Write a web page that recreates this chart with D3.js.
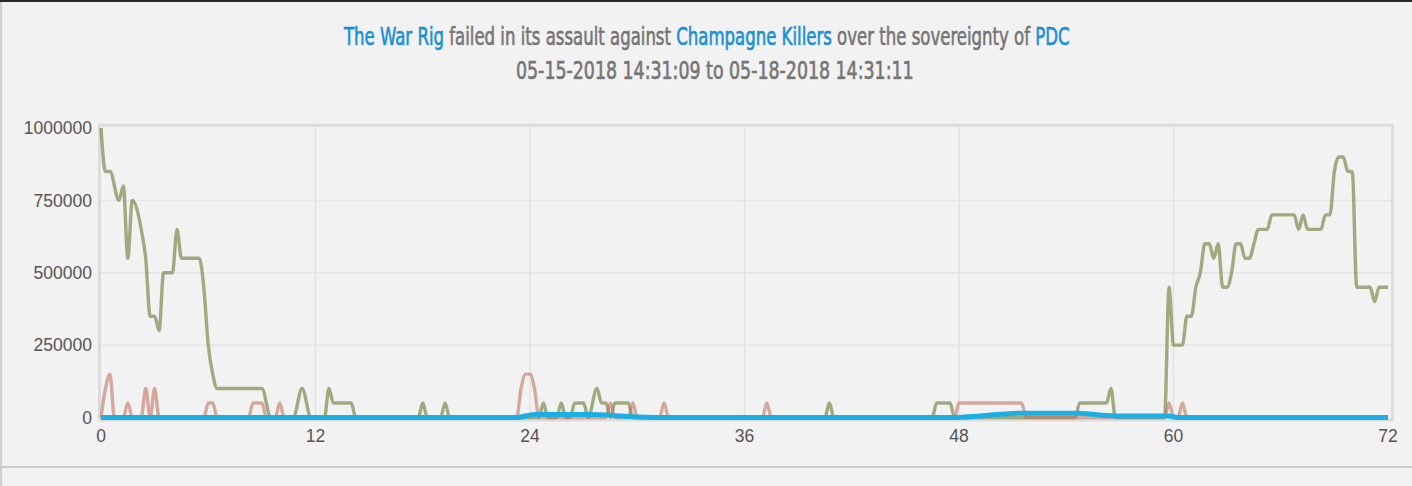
<!DOCTYPE html>
<html>
<head>
<meta charset="utf-8">
<script src="https://cdn.jsdelivr.net/npm/d3@7"></script>
<style>
  body { margin: 0; background: #f2f2f2; overflow: hidden; }
  svg { display: block; }
</style>
</head>
<body>
<script>
// [hours since start, value]
const greenSeries = [
  [0, 1000000], [0.25, 850000], [0.5, 850000], [1, 750000], [1.25, 800000], [1.5, 550000],
  [1.75, 750000], [2.25, 650000], [2.5, 550000], [2.75, 350000], [3, 350000], [3.25, 300000],
  [3.5, 500000], [4, 500000], [4.25, 650000], [4.5, 550000], [5.5, 550000], [5.75, 450000],
  [6, 250000], [6.25, 150000], [6.5, 100000], [9, 100000], [9.5, 0], [10.75, 0], [11.25, 100000],
  [11.75, 0], [12.5, 0], [12.75, 100000], [13, 50000], [14, 50000], [14.25, 0], [17.75, 0],
  [18, 50000], [18.25, 0], [19, 0], [19.25, 50000], [19.5, 0], [24.5, 0], [24.75, 50000],
  [25, 0], [25.5, 0], [25.75, 50000], [26, 0], [26.25, 0], [26.5, 50000], [27, 50000],
  [27.25, 0], [27.75, 100000], [28, 50000], [28.25, 50000], [28.5, 0], [28.75, 50000],
  [29.5, 50000], [29.75, 0], [40.5, 0], [40.75, 50000], [41, 0], [46.5, 0], [46.75, 50000],
  [47.5, 50000], [47.75, 0], [54.5, 0], [54.75, 50000], [56.25, 50000], [56.5, 100000],
  [56.75, 0], [59.5, 0], [59.75, 450000], [60, 250000], [60.5, 250000], [60.75, 350000],
  [61, 350000], [61.25, 450000], [61.5, 500000], [61.75, 600000], [62, 600000], [62.25, 550000],
  [62.5, 600000], [62.75, 450000], [63, 450000], [63.25, 500000], [63.5, 600000], [63.75, 600000],
  [64, 550000], [64.25, 550000], [64.5, 600000], [64.75, 650000], [65.25, 650000], [65.5, 700000],
  [66.75, 700000], [67, 650000], [67.25, 700000], [67.5, 650000], [68.25, 650000], [68.5, 700000],
  [68.75, 700000], [69, 850000], [69.25, 900000], [69.5, 900000], [69.75, 850000], [70, 850000],
  [70.25, 450000], [71, 450000], [71.25, 400000], [71.5, 450000], [72, 450000]
];
const pinkSeries = [
  [0, 0], [0.25, 100000], [0.5, 150000], [0.75, 0], [1.25, 0], [1.5, 50000], [1.75, 0],
  [2.25, 0], [2.5, 100000], [2.75, 0], [3, 100000], [3.25, 0], [5.75, 0], [6, 50000],
  [6.25, 50000], [6.5, 0], [8.25, 0], [8.5, 50000], [9, 50000], [9.25, 0], [9.75, 0],
  [10, 50000], [10.25, 0], [23.25, 0], [23.5, 100000], [23.75, 150000], [24, 150000],
  [24.25, 100000], [24.5, 0], [28.25, 0], [28.5, 50000], [28.75, 0], [29.5, 0], [29.75, 50000],
  [30, 0], [31.25, 0], [31.5, 50000], [31.75, 0], [37, 0], [37.25, 50000], [37.5, 0],
  [47.75, 0], [48, 50000], [51.5, 50000], [51.75, 0], [59.5, 0], [59.75, 50000], [60, 0],
  [60.25, 0], [60.5, 50000], [60.75, 0], [72, 0]
];
const blueSeries = [
  [0, 0], [23.25, 0], [24.25, 10000], [27.25, 10000], [29.75, 3000], [32, 0], [47.75, 0],
  [51.5, 15000], [54.5, 15000], [56.75, 5000], [59.75, 5000], [60.25, 0], [72, 0]
];
const xTicks = [0, 12, 24, 36, 48, 60, 72];
const yTicks = [0, 250000, 500000, 750000, 1000000];
const titleParts = [
  ["The War Rig", true], [" failed in its assault against ", false],
  ["Champagne Killers", true], [" over the sovereignty of ", false], ["PDC", true]
];
const subtitle = "05-15-2018 14:31:09 to 05-18-2018 14:31:11";

const width = 1412, height = 486;
const plot = {left: 101, right: 1388, top: 128, bottom: 417.5};

let svg = d3.select("body").append("svg")
  .attr("width", width)
  .attr("height", height);

// page chrome
svg.append("rect").attr("x", 0).attr("y", 0).attr("width", width).attr("height", 2).attr("fill", "#2b2b2b");
svg.append("rect").attr("x", 0).attr("y", 2).attr("width", 2).attr("height", height).attr("fill", "#cfcfcf");
svg.append("rect").attr("x", 0).attr("y", 466).attr("width", width).attr("height", 2).attr("fill", "#cacaca");

let x = d3.scaleLinear().domain([0, 72]).range([plot.left, plot.right]);
let y = d3.scaleLinear().domain([0, 1000000]).range([plot.bottom, plot.top]);

// grid
svg.append("g")
  .selectAll("line")
  .data(xTicks.slice(1, -1))
  .join("line")
  .attr("x1", d => x(d)).attr("x2", d => x(d))
  .attr("y1", 126).attr("y2", 420)
  .attr("stroke", "#e2e2e2").attr("stroke-width", 1.5);
svg.append("g")
  .selectAll("line")
  .data(yTicks.slice(1, -1))
  .join("line")
  .attr("x1", 100).attr("x2", 1392)
  .attr("y1", d => y(d)).attr("y2", d => y(d))
  .attr("stroke", "#e5e5e5").attr("stroke-width", 1.5);

// frame
svg.append("rect")
  .attr("x", 99.5).attr("y", 125.3)
  .attr("width", 1293).attr("height", 294.7)
  .attr("fill", "none")
  .attr("stroke", "#dcdcdc")
  .attr("stroke-width", 3);

// axes labels
svg.append("g")
  .selectAll("text")
  .data(yTicks)
  .join("text")
  .attr("x", 92)
  .attr("y", d => y(d))
  .attr("dy", "0.36em")
  .attr("text-anchor", "end")
  .style("font", "17.5px 'Liberation Sans', Arial, sans-serif")
  .attr("fill", "#555")
  .text(d3.format("d"));
svg.append("g")
  .selectAll("text")
  .data(xTicks)
  .join("text")
  .attr("x", d => x(d))
  .attr("y", 442)
  .attr("text-anchor", "middle")
  .style("font", "17.5px 'Liberation Sans', Arial, sans-serif")
  .attr("fill", "#555")
  .text(d => d);

// series
let line = d3.line()
  .x(d => x(d[0]))
  .y(d => y(d[1]))
  .curve(d3.curveMonotoneX);

svg.append("path").datum(greenSeries)
  .attr("d", line).attr("fill", "none")
  .attr("stroke", "rgba(112,124,58,0.62)").attr("stroke-width", 3.4)
  .attr("stroke-linejoin", "round");
svg.append("path").datum(pinkSeries)
  .attr("d", line).attr("fill", "none")
  .attr("stroke", "rgba(192,118,100,0.6)").attr("stroke-width", 3.4)
  .attr("stroke-linejoin", "round");
svg.append("path").datum(blueSeries)
  .attr("d", line).attr("fill", "none")
  .attr("stroke", "#1bb0e3").attr("stroke-width", 5)
  .attr("stroke-linejoin", "round");

// title, squeezed to the reference widths
const titleFont = "25px 'Liberation Sans Narrow', 'DejaVu Sans Condensed', sans-serif";
function titleLine(parts, left, right, baseline) {
  let g = svg.append("g");
  [["#ffffff", 1], [null, 0]].forEach(function (s) {
    let t = g.append("text")
      .attr("y", s[1])
      .style("font", titleFont)
      .style("white-space", "pre");
    parts.forEach(function (p) {
      let c = s[0] || (p[1] ? "#1a8fd6" : "#767676");
      t.append("tspan").attr("fill", c).attr("stroke", c).attr("stroke-width", 0.7).text(p[0]);
    });
  });
  let w = g.select("text").node().getComputedTextLength();
  g.attr("transform", "translate(" + left + "," + baseline + ") scale(" + ((right - left) / w) + ",1)");
}
titleLine(titleParts, 344, 1070, 44.5);
titleLine([[subtitle, false]], 516, 914, 79);
</script>
</body>
</html>
